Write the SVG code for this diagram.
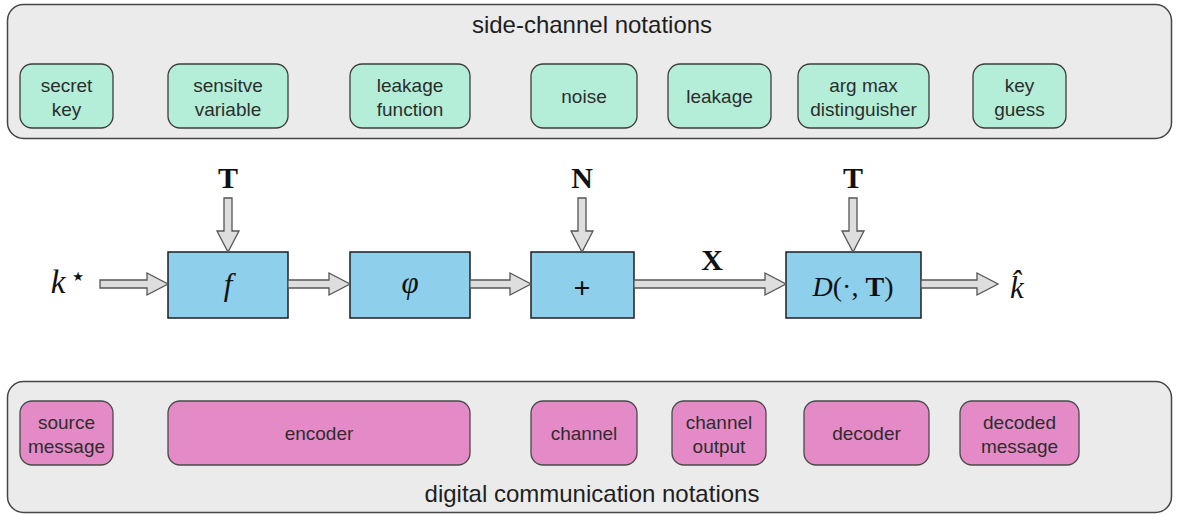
<svg xmlns="http://www.w3.org/2000/svg" width="1177" height="515" viewBox="0 0 1177 515">
<style>
.panel{fill:#ebebeb;stroke:#454545;stroke-width:1.5}
.ptitle{font-family:"Liberation Sans",Arial,sans-serif;font-size:24px;fill:#1e1e1e;text-anchor:middle}
.g{fill:#b4eed8;stroke:#3c3c3c;stroke-width:1.3}
.p{fill:#e48bc7;stroke:#4a4a4a;stroke-width:1.3}
.lbl{font-family:"Liberation Sans",Arial,sans-serif;font-size:19px;fill:#2d2d2d;text-anchor:middle}
.blk{fill:#8ecfec;stroke:#1e1e1e;stroke-width:1.5}
.arr{fill:#dedede;stroke:#555;stroke-width:1.3;stroke-linejoin:miter}
.m{font-family:"Liberation Serif","Times New Roman",serif;fill:#111;text-anchor:middle}
.mb{font-family:"Liberation Serif","Times New Roman",serif;font-weight:bold;font-size:30px;fill:#111;text-anchor:middle}
</style>

<g id="panel-side-channel">
  <rect class="panel" x="7.5" y="4.5" width="1164" height="134" rx="16"/>
  <text class="ptitle" x="592" y="33">side-channel notations</text>
</g>
<g id="panel-digital-communication">
  <rect class="panel" x="7.5" y="381.5" width="1164" height="131" rx="16"/>
  <text class="ptitle" x="592" y="502">digital communication notations</text>
</g>

<g id="sc-secret-key"><rect class="g" x="20" y="64" width="93" height="64" rx="12"/><text class="lbl" x="66.5" y="92">secret</text><text class="lbl" x="66.5" y="116">key</text></g>
<g id="sc-sensitive-variable"><rect class="g" x="168" y="64" width="120" height="64" rx="12"/><text class="lbl" x="228" y="92">sensitve</text><text class="lbl" x="228" y="116">variable</text></g>
<g id="sc-leakage-function"><rect class="g" x="350" y="64" width="120" height="64" rx="12"/><text class="lbl" x="410" y="92">leakage</text><text class="lbl" x="410" y="116">function</text></g>
<g id="sc-noise"><rect class="g" x="531" y="64" width="106" height="64" rx="12"/><text class="lbl" x="584" y="103">noise</text></g>
<g id="sc-leakage"><rect class="g" x="668" y="64" width="103" height="64" rx="12"/><text class="lbl" x="719.5" y="103">leakage</text></g>
<g id="sc-distinguisher"><rect class="g" x="798" y="64" width="131" height="64" rx="12"/><text class="lbl" x="863.5" y="92">arg max</text><text class="lbl" x="863.5" y="116">distinguisher</text></g>
<g id="sc-key-guess"><rect class="g" x="973" y="64" width="93" height="64" rx="12"/><text class="lbl" x="1019.5" y="92">key</text><text class="lbl" x="1019.5" y="116">guess</text></g>

<g id="dc-source-message"><rect class="p" x="20" y="401" width="93" height="64" rx="12"/><text class="lbl" x="66.5" y="429">source</text><text class="lbl" x="66.5" y="453">message</text></g>
<g id="dc-encoder"><rect class="p" x="168" y="401" width="302" height="64" rx="12"/><text class="lbl" x="319" y="440">encoder</text></g>
<g id="dc-channel"><rect class="p" x="531" y="401" width="106" height="64" rx="12"/><text class="lbl" x="584" y="440">channel</text></g>
<g id="dc-channel-output"><rect class="p" x="672" y="401" width="94" height="64" rx="12"/><text class="lbl" x="719" y="429">channel</text><text class="lbl" x="719" y="453">output</text></g>
<g id="dc-decoder"><rect class="p" x="804" y="401" width="125" height="64" rx="12"/><text class="lbl" x="866.5" y="440">decoder</text></g>
<g id="dc-decoded-message"><rect class="p" x="960" y="401" width="119" height="64" rx="12"/><text class="lbl" x="1019.5" y="429">decoded</text><text class="lbl" x="1019.5" y="453">message</text></g>

<g id="in-kstar">
  <text class="m" x="58" y="293" font-size="33" font-style="italic">k</text>
  <text x="78" y="281" font-size="13" font-family="DejaVu Sans, sans-serif" fill="#111" text-anchor="middle">★</text>
</g>
<g id="block-f"><rect class="blk" x="168" y="252" width="120" height="66"/><text class="m" x="228" y="295" font-size="31" font-style="italic" fill="#1a2a4a">f</text></g>
<g id="block-phi"><rect class="blk" x="350" y="252" width="120" height="66"/><text class="m" x="410" y="293" font-size="31" font-style="italic" fill="#1a2a4a">φ</text></g>
<g id="block-plus"><rect class="blk" x="531" y="252" width="103" height="66"/><text class="m" x="582" y="298" font-size="30" font-weight="bold" font-family="Liberation Sans, Arial, sans-serif">+</text></g>
<g id="block-D"><rect class="blk" x="786" y="252" width="135" height="66"/><text class="m" x="853" y="296" font-size="28"><tspan font-style="italic">D</tspan>(·, <tspan font-weight="bold">T</tspan>)</text></g>
<g id="out-khat">
  <text class="m" x="1017" y="298" font-size="31" font-style="italic">k&#x302;</text>
</g>
<g id="in-T1"><text class="mb" x="228" y="188">T</text></g>
<g id="in-N"><text class="mb" x="582" y="188">N</text></g>
<g id="in-T2"><text class="mb" x="853" y="188">T</text></g>
<g id="lbl-X"><text class="mb" x="712" y="270">X</text></g>

<g id="connectors">
  <polygon class="arr" points="100,280 147,280 147,273 168,284 147,295 147,288 100,288"/>
  <polygon class="arr" points="288,280 329,280 329,273 350,284 329,295 329,288 288,288"/>
  <polygon class="arr" points="470,280 510,280 510,273 531,284 510,295 510,288 470,288"/>
  <polygon class="arr" points="634,280 765,280 765,273 786,284 765,295 765,288 634,288"/>
  <polygon class="arr" points="921,280 977,280 977,273 998,284 977,295 977,288 921,288"/>
  <polygon class="arr" points="224,198 232,198 232,231 239,231 228,252 217,231 224,231"/>
  <polygon class="arr" points="578,198 586,198 586,231 593,231 582,252 571,231 578,231"/>
  <polygon class="arr" points="849,198 857,198 857,231 864,231 853,252 842,231 849,231"/>
</g>
</svg>
